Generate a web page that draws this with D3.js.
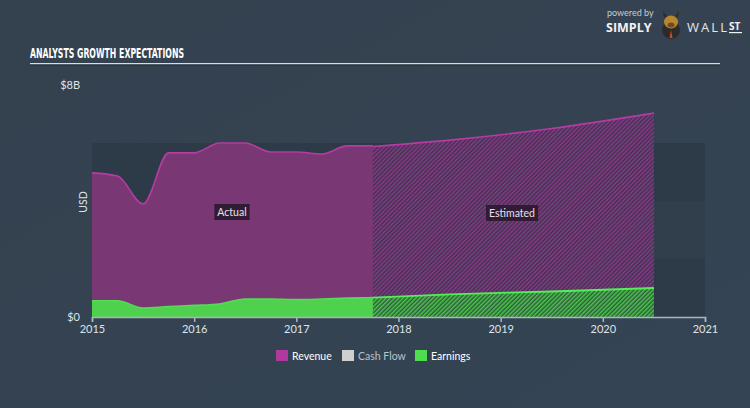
<!DOCTYPE html>
<html><head><meta charset="utf-8">
<script src="https://cdn.jsdelivr.net/npm/d3@7"></script>
<style>
html,body{margin:0;padding:0;background:#344353;}
svg{display:block;}
</style></head>
<body><svg id="c" width="750" height="408"></svg>
<script>
// ---- data ----
const actualDates = [2015.0, 2015.25, 2015.5, 2015.75, 2016.0, 2016.25, 2016.5, 2016.75, 2017.0, 2017.25, 2017.5, 2017.75];
const actualRevenue = [4.97, 4.86, 3.9, 5.66, 5.66, 6.0, 6.0, 5.69, 5.69, 5.62, 5.9, 5.9];
const actualEarnings = [0.56, 0.56, 0.31, 0.36, 0.4, 0.45, 0.62, 0.62, 0.6, 0.62, 0.65, 0.67];
const estDates = [2017.75, 2018.5, 2019.5, 2020.5];
const estRevenue = [5.88, 6.1, 6.5, 7.03];
const estEarnings = [0.67, 0.78, 0.88, 1.0];
const xTicks = [2015, 2016, 2017, 2018, 2019, 2020, 2021];
const yTickLabels = ["$0", "$8B"];
const yTickValues = [0, 8];
const legendItems = ["Revenue", "Cash Flow", "Earnings"];

const svg = d3.select("#c");
const W = 750, H = 408;
const x = d3.scaleLinear().domain([2015, 2021]).range([92, 705]);
const y = d3.scaleLinear().domain([0, 8]).range([317, 85]);

const defs = svg.append("defs");
const bg = defs.append("linearGradient").attr("id","bg").attr("x1",0).attr("y1",0).attr("x2",1).attr("y2",1);
bg.append("stop").attr("offset",0).attr("stop-color","#34414f");
bg.append("stop").attr("offset",1).attr("stop-color","#344454");
svg.append("rect").attr("width",W).attr("height",H).attr("fill","url(#bg)");

function hatch(id, bgc, fg){
  const p = defs.append("pattern").attr("id",id).attr("patternUnits","userSpaceOnUse")
    .attr("width",3).attr("height",3).attr("patternTransform","rotate(45)");
  p.append("rect").attr("width",3).attr("height",3).attr("fill",bgc);
  p.append("rect").attr("width",1.5).attr("height",3).attr("fill",fg);
}
hatch("hRev","#3c3350","#8a3a85");
hatch("hEarn","#2f5a3e","#4cc74c");

// background bands
[[0,2],[4,6]].forEach(b=>{
  svg.append("rect").attr("x",x(2015)).attr("width",x(2021)-x(2015))
    .attr("y",y(b[1])).attr("height",y(b[0])-y(b[1])).attr("fill","#2d3b48");
});
svg.append("rect").attr("x",x(2015)).attr("width",x(2021)-x(2015))
    .attr("y",y(4)).attr("height",y(2)-y(4)).attr("fill","#313f4d");

// title
svg.append("text").attr("x",30).attr("y",58).text("ANALYSTS GROWTH EXPECTATIONS")
  .attr("fill","#ffffff").attr("font-family","'Liberation Sans Narrow','DejaVu Sans Condensed',sans-serif")
  .attr("font-weight","bold").attr("font-size",14.5).attr("textLength",154).attr("lengthAdjust","spacingAndGlyphs");
svg.append("rect").attr("x",30).attr("y",63).attr("width",690).attr("height",1.5).attr("fill","#d8dde2");
svg.append("rect").attr("x",30).attr("y",64.5).attr("width",690).attr("height",1).attr("fill","#1e2833");

// logo
svg.append("text").attr("x",607).attr("y",16).text("powered by").attr("fill","#c8cdd2")
  .attr("font-family","Lato, sans-serif").attr("font-size",9);
svg.append("text").attr("x",606).attr("y",32).text("SIMPLY").attr("fill","#f2f2f2")
  .attr("font-family","'Open Sans', sans-serif").attr("font-weight","bold").attr("font-size",12.5);
const g0 = svg.append("g").attr("transform","translate(671,21)");
g0.append("circle").attr("cx",0).attr("cy",9).attr("r",9).attr("fill","#2b2b2b");
g0.append("ellipse").attr("cx",0).attr("cy",1).attr("rx",7).attr("ry",6.5).attr("fill","#b8862f");
g0.append("path").attr("d","M-7,-3 L-8,-10 L-4,-5 Z M7,-3 L8,-10 L4,-5 Z").attr("fill","#3a2a1a");
g0.append("ellipse").attr("cx",0).attr("cy",4).attr("rx",3.5).attr("ry",2.5).attr("fill","#6e4b22");
g0.append("path").attr("d","M0,9 L-1.5,17 L1.5,17 Z").attr("fill","#d24a1e");
svg.append("text").attr("x",687).attr("y",32).text("WALL").attr("fill","#e6e6e6")
  .attr("font-family","'Open Sans', sans-serif").attr("font-size",13)
  .attr("textLength",40).attr("lengthAdjust","spacing");
svg.append("text").attr("x",729).attr("y",30).text("ST").attr("fill","#f2f2f2")
  .attr("font-family","'Open Sans', sans-serif").attr("font-weight","bold").attr("font-size",10);
svg.append("rect").attr("x",729).attr("y",32).attr("width",13).attr("height",1.2).attr("fill","#f2f2f2");

// areas
const curve = d3.curveMonotoneX;
const actRev = actualDates.map((d,i)=>({d, v: actualRevenue[i]}));
const actEarn = actualDates.map((d,i)=>({d, v: actualEarnings[i]}));
const estRev = estDates.map((d,i)=>({d, v: estRevenue[i]}));
const estEarn = estDates.map((d,i)=>({d, v: estEarnings[i]}));
const area = d3.area().x(p=>x(p.d)).y0(y(0)).y1(p=>y(p.v)).curve(curve);
const line = d3.line().x(p=>x(p.d)).y(p=>y(p.v)).curve(curve);

svg.append("path").attr("d",area(actRev)).attr("fill","#793774");
svg.append("path").attr("d",area(estRev)).attr("fill","url(#hRev)");
svg.append("path").attr("d",area(actEarn)).attr("fill","#4fd14f");
svg.append("path").attr("d",area(estEarn)).attr("fill","url(#hEarn)");

svg.append("path").attr("d",line(actRev)).attr("fill","none").attr("stroke","#b83aa2").attr("stroke-width",1.6);
svg.append("path").attr("d",line(estRev)).attr("fill","none").attr("stroke","#b83aa2").attr("stroke-width",1.6);
svg.append("path").attr("d",line(actEarn)).attr("fill","none").attr("stroke","#52de52").attr("stroke-width",1.6);
svg.append("path").attr("d",line(estEarn)).attr("fill","none").attr("stroke","#55ee55").attr("stroke-width",1.8);

// labels Actual / Estimated
function tag(cx, cy, txt){
  const t = svg.append("text").attr("x",cx).attr("y",cy+4).attr("text-anchor","middle").text(txt)
    .attr("fill","#e8e0ea").attr("font-family","Lato, sans-serif").attr("font-size",10.5);
  const bb = t.node().getBBox();
  svg.insert("rect", () => t.node()).attr("x",bb.x-3).attr("y",cy-8).attr("width",bb.width+6).attr("height",16)
    .attr("fill","#2b1a30").attr("opacity",0.92);
}
tag(232, 212, "Actual");
tag(512, 213, "Estimated");

// x axis
const xa = svg.append("g").attr("transform",`translate(0,${y(0)})`)
  .call(d3.axisBottom(x).tickValues(xTicks).tickFormat(d3.format("d")).tickSize(5).tickPadding(3));
xa.select(".domain").attr("stroke","#aab5c0").attr("stroke-width",1.5);
xa.selectAll(".tick line").attr("stroke","#aab5c0").attr("stroke-width",1.5);
xa.selectAll(".tick text").attr("fill","#dfe4e8").attr("font-family","Lato, sans-serif").attr("font-size",11);

// y labels
svg.selectAll(".ylab").data(yTickValues).enter().append("text")
  .attr("x",80).attr("y",(d)=>y(d)+4).attr("text-anchor","end")
  .text((d,i)=>yTickLabels[i]).attr("fill","#dfe4e8").attr("font-family","Lato, sans-serif").attr("font-size",11);
svg.append("text").attr("transform","translate(87,202) rotate(-90)").attr("text-anchor","middle")
  .text("USD").attr("fill","#dfe4e8").attr("font-family","Lato, sans-serif").attr("font-size",10.5);

// legend
const legColors = ["#b0399e","#cfcfcf","#4fdc4f"];
const legText = ["#ffffff","#b9c2cb","#ffffff"];
const legX = [276, 342, 415];
legendItems.forEach((n,i)=>{
  svg.append("rect").attr("x",legX[i]).attr("y",350).attr("width",12).attr("height",11).attr("fill",legColors[i]);
  svg.append("text").attr("x",legX[i]+16).attr("y",360).text(n).attr("fill",legText[i])
    .attr("font-family","Lato, sans-serif").attr("font-size",10.5);
});
</script></body></html>
